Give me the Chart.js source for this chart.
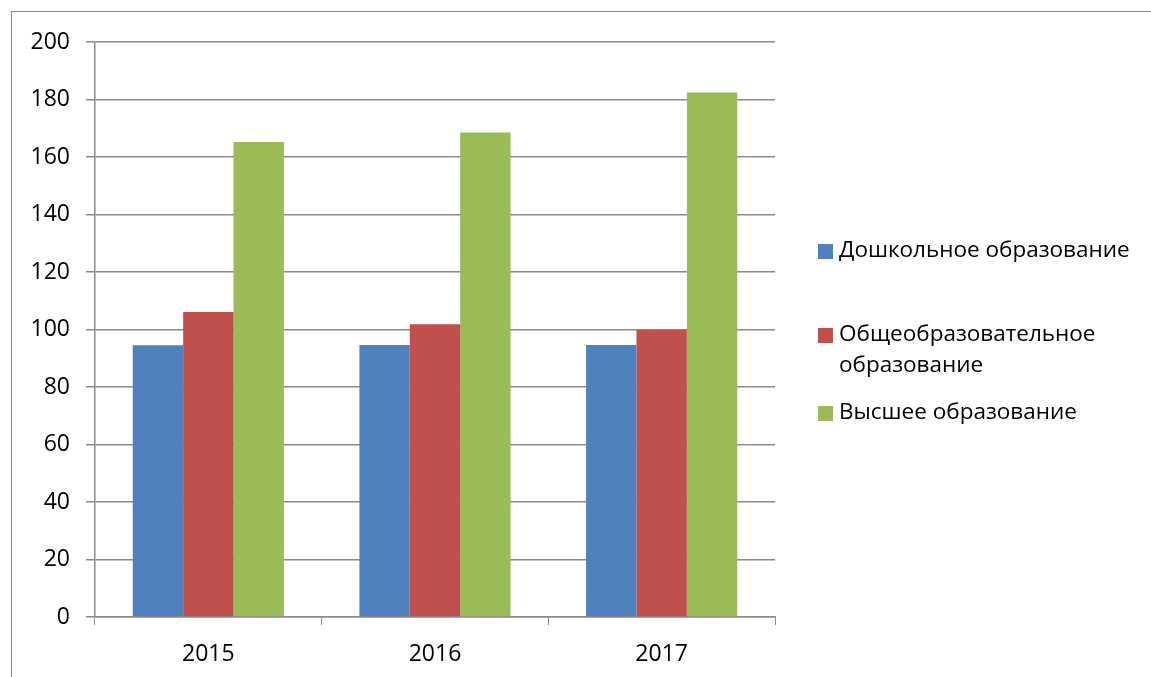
<!DOCTYPE html>
<html>
<head>
<meta charset="utf-8">
<script src="https://cdn.jsdelivr.net/npm/chart.js@4/dist/chart.umd.min.js"></script>
<style>
  html, body { margin: 0; padding: 0; background: #fff; }
  #wrap { position: relative; width: 1151px; height: 677px; }
  #frame { position: absolute; left: 11px; top: 11px; right: 0; bottom: 0;
           border-left: 1.5px solid #8a8a8a; border-top: 1.5px solid #8a8a8a; }
  canvas { position: absolute; left: 0; top: 0; }
</style>
</head>
<body>
<div id="wrap">
  <div id="frame"></div>
  <canvas id="chart" width="1151" height="677"></canvas>
</div>
<script>
const years = ['2015', '2016', '2017'];
const preschool = [94.5, 94.6, 94.6];
const general = [106.1, 101.8, 99.8];
const higher = [165.2, 168.5, 182.4];
const seriesNames = ['Дошкольное образование', 'Общеобразовательное образование', 'Высшее образование'];
const seriesColors = ['#4F81BD', '#C0504D', '#9BBB59'];

const FONT = '"Open Sans", "Liberation Sans", sans-serif';

// legend drawn by hand so the long label can wrap like in the original
const sideLegend = {
  id: 'sideLegend',
  afterDraw(chart) {
    const ctx = chart.ctx;
    const boxX = 818, textX = 839, maxW = 305, lineH = 31;
    const itemY = [251, 335, 413];
    ctx.save();
    ctx.font = '22.5px ' + FONT;
    ctx.textBaseline = 'middle';
    ctx.fillStyle = '#000';
    chart.data.datasets.forEach((ds, i) => {
      const words = ds.label.split(' ');
      const lines = [];
      let cur = '';
      words.forEach(w => {
        const t = cur ? cur + ' ' + w : w;
        if (cur && ctx.measureText(t).width > maxW) { lines.push(cur); cur = w; }
        else cur = t;
      });
      lines.push(cur);
      const y = itemY[i];
      ctx.fillStyle = ds.backgroundColor;
      ctx.fillRect(boxX, y - 7, 15, 15);
      ctx.fillStyle = '#000';
      lines.forEach((l, k) => ctx.fillText(l, textX, y + k * lineH));
    });
    ctx.restore();
  }
};

const data = [preschool, general, higher];

new Chart(document.getElementById('chart'), {
  type: 'bar',
  data: {
    labels: years,
    datasets: seriesNames.map((name, i) => ({
      label: name,
      data: data[i],
      backgroundColor: seriesColors[i],
      borderWidth: 0,
      barPercentage: 1,
      categoryPercentage: 0.667
    }))
  },
  options: {
    responsive: false,
    animation: false,
    layout: { padding: { left: 0, right: 376, top: 42, bottom: 0 } },
    plugins: { legend: { display: false }, tooltip: { enabled: false } },
    scales: {
      x: {
        afterFit(s) { s.height = 60; },
        grid: { offset: true, drawOnChartArea: false, drawTicks: true, tickLength: 8, color: '#8a8a8a' },
        border: { color: '#8a8a8a', width: 1.5 },
        ticks: { color: '#000', font: { family: FONT, size: 23 }, padding: 16 }
      },
      y: {
        min: 0,
        max: 200,
        afterFit(s) { s.width = 95; },
        grid: { color: '#8a8a8a', lineWidth: 1.5, tickLength: 9 },
        border: { color: '#8a8a8a', width: 1.5 },
        ticks: { stepSize: 20, color: '#000', font: { family: FONT, size: 23 }, padding: 16 }
      }
    }
  },
  plugins: [sideLegend]
});
</script>
</body>
</html>
